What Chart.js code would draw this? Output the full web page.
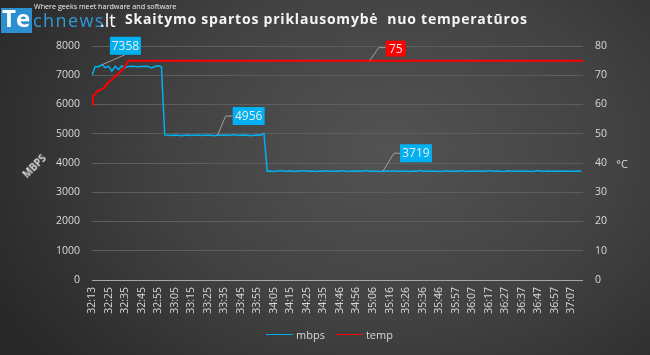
<!DOCTYPE html>
<html><head><meta charset="utf-8">
<script src="https://cdn.jsdelivr.net/npm/chart.js@4.4.0/dist/chart.umd.min.js"></script>
<style>
html,body{margin:0;padding:0;}
body{width:650px;height:355px;overflow:hidden;position:relative;
 background:radial-gradient(ellipse 70% 95% at 60% 42%, #535353 0%, #424242 50%, #272727 100%);
 font-family:'Open Sans',sans-serif;}
#wrap{position:absolute;left:0;top:0;width:650px;height:355px;}
.abs{position:absolute;white-space:nowrap;}
#logoBox{left:1px;top:8px;width:31px;height:25px;background:#2b8fd0;}
#logoTe{left:2px;top:1px;font:bold 24px 'Open Sans',sans-serif;color:#fff;}
#logoCh{left:33px;top:8px;font:18px 'Open Sans',sans-serif;color:#2f9ad8;letter-spacing:1.4px;}
#logoLt{left:100px;top:8px;font:18px 'Open Sans',sans-serif;color:#fff;}
#logoTag{left:34px;top:1px;font:7.2px 'Open Sans',sans-serif;color:#f0f0f0;}
#title{left:125px;top:9px;font:bold 14px 'Open Sans',sans-serif;color:#f4f4f4;}
#yTitle{left:34px;top:166px;font:bold 10px 'Open Sans',sans-serif;color:#d9d9d9;transform:translate(-50%,-50%) rotate(-45deg);}
#y1Title{left:622px;top:163px;font:11px 'Open Sans',sans-serif;color:#d9d9d9;transform:translate(-50%,-50%);}
#legend{left:266px;top:327px;font:11px 'Open Sans',sans-serif;color:#d9d9d9;display:flex;align-items:center;}
.lg{display:inline-block;width:27px;height:0;margin-right:3px;}
</style></head>
<body>
<div id="wrap"><canvas id="c" width="650" height="355"></canvas></div>
<div class="abs" id="logoBox"></div>
<div class="abs" id="logoTe">Te</div>
<div class="abs" id="logoCh">chnews</div>
<div class="abs" id="logoLt">.lt</div>
<div class="abs" id="logoTag">Where geeks meet hardware and software</div>
<div class="abs" id="title">Skaitymo spartos priklausomybė&nbsp; nuo temperatūros</div>
<div class="abs" id="yTitle">MBPS</div>
<div class="abs" id="y1Title">°C</div>
<div class="abs" id="legend"><span class="lg" style="border-top:1.5px solid #00B0F0"></span><span style="margin-right:11px">mbps</span><span class="lg" style="border-top:1.5px solid #FF0000"></span><span>temp</span></div>
<script>
// ---- data ----
const timeLabels = ['32:13','32:25','32:35','32:45','32:55','33:05','33:15','33:25','33:35','33:45',
 '33:55','34:05','34:15','34:25','34:35','34:46','34:56','35:06','35:16','35:26',
 '35:36','35:46','35:57','36:07','36:17','36:27','36:37','36:47','36:57','37:07'];
const SAMPLES_PER_LABEL = 10;
const LAST_SAMPLE = 297;
const MBPS_STEP = 2; // one value every 2 samples
const mbps = [
 7000,7300,7290,7358,7260,7310,7140,7300,7200,7320,
 7260,7300,7310,7300,7290,7300,7310,7300,7250,7300,
 7320,7290,4960,4950,4940,4960,4950,4930,4950,4960,
 4940,4950,4960,4940,4950,4960,4950,4930,4956,4940,
 4960,4950,4950,4970,4940,4950,4960,4950,4930,4950,
 4960,4950,5010,3720,3730,3710,3725,3740,3715,3720,
 3735,3710,3725,3720,3740,3715,3730,3720,3710,3725,
 3720,3735,3715,3720,3730,3720,3740,3710,3720,3725,
 3715,3730,3720,3740,3715,3725,3720,3710,3719,3725,
 3720,3735,3715,3720,3730,3720,3710,3725,3720,3740,
 3715,3720,3730,3720,3725,3710,3720,3735,3715,3720,
 3725,3720,3740,3710,3720,3725,3720,3715,3730,3720,
 3740,3715,3720,3725,3710,3720,3735,3720,3715,3725,
 3720,3730,3720,3710,3725,3740,3715,3720,3725,3720,
 3715,3730,3720,3725,3720,3715,3720,3725,3720
];
const tempX = [0, 0.5, 2, 3, 5, 7, 9, 11, 14, 16, 18, 20, 22, 297];
const tempY = [60, 63, 63.5, 64.5, 65, 65.5, 67, 68, 69.5, 70.7, 71.6, 73, 75, 75];
const calloutMbps = [3, 38, 88];  // indexes in mbps array
const calloutTempSample = 168;    // sample position of temp label
const calloutTempValue = 75;

// ---- build ----
const mbpsPts = mbps.map((v,i)=>({x:i*MBPS_STEP, y:v}));
const tempPts = tempX.map((x,i)=>({x:x, y:tempY[i]}));

const callouts = [
 {axis:'y',  x: calloutMbps[0]*MBPS_STEP, v: mbps[calloutMbps[0]], bg:'#00B0F0', box:[8,-28,31,18], path:[[23,-10]]},
 {axis:'y',  x: calloutMbps[1]*MBPS_STEP, v: mbps[calloutMbps[1]], bg:'#00B0F0', box:[15,-28,32,18], path:[[8,-19],[15,-19]]},
 {axis:'y',  x: calloutMbps[2]*MBPS_STEP, v: mbps[calloutMbps[2]], bg:'#00B0F0', box:[17,-27,32,18], path:[[11,-18],[17,-18]]},
 {axis:'y1', x: calloutTempSample, v: calloutTempValue, bg:'#FF0000', box:[16,-20,20,16], path:[[9,-13],[16,-13]]}
];

const calloutPlugin = {
 id:'callouts',
 afterDatasetsDraw(chart){
  const ctx = chart.ctx, sx = chart.scales.x;
  callouts.forEach(c=>{
   const px = sx.getPixelForValue(c.x), py = chart.scales[c.axis].getPixelForValue(c.v);
   ctx.save();
   ctx.strokeStyle = '#a0a0a0'; ctx.lineWidth = 1;
   ctx.beginPath(); ctx.moveTo(px,py);
   c.path.forEach(p=>ctx.lineTo(px+p[0], py+p[1]));
   ctx.stroke();
   const [bx,by,bw,bh] = c.box;
   ctx.fillStyle = c.bg;
   ctx.fillRect(px+bx, py+by, bw, bh);
   ctx.fillStyle = '#ececec';
   ctx.font = '12px "Open Sans", sans-serif';
   ctx.textAlign = 'center'; ctx.textBaseline = 'middle';
   ctx.fillText(String(c.v), px+bx+bw/2, py+by+bh/2+0.5);
   ctx.restore();
  });
 }
};

const tickFont = {family:"'Open Sans', sans-serif", size:10.5};
new Chart(document.getElementById('c'), {
 type:'line',
 data:{datasets:[
  {label:'mbps', data:mbpsPts, yAxisID:'y', borderColor:'#00B0F0', borderWidth:1.5, pointRadius:0, tension:0, order:2},
  {label:'temp', data:tempPts, yAxisID:'y1', borderColor:'#FF0000', borderWidth:2, pointRadius:0, tension:0, order:1}
 ]},
 options:{
  responsive:false, animation:false,
  layout:{padding:{top:46,left:0,right:0,bottom:0}},
  plugins:{legend:{display:false}, tooltip:{enabled:false}},
  scales:{
   x:{type:'linear', min:0, max:LAST_SAMPLE,
      afterBuildTicks(a){ a.ticks = timeLabels.map((_,i)=>({value:i*SAMPLES_PER_LABEL})); },
      afterFit(a){ a.height = 75; },
      grid:{display:false, drawTicks:false}, border:{display:false},
      ticks:{autoSkip:false, minRotation:90, maxRotation:90, padding:7, color:'#d9d9d9', font:tickFont,
        callback:(v)=>timeLabels[Math.round(v/SAMPLES_PER_LABEL)]}},
   y:{position:'left', min:0, max:8000,
      afterFit(a){ a.width = 92; },
      grid:{color:(c)=>c.tick && c.tick.value===0 ? '#a6a6a6' : '#5e5e5e', lineWidth:1, drawTicks:false},
      border:{display:false},
      ticks:{stepSize:1000, padding:12, color:'#d9d9d9', font:tickFont, callback:(v)=>String(v)}},
   y1:{position:'right', min:0, max:80,
      afterFit(a){ a.width = 67; },
      grid:{display:false, drawTicks:false}, border:{display:false},
      ticks:{stepSize:10, padding:12, color:'#d9d9d9', font:tickFont, callback:(v)=>String(v)}}
  }
 },
 plugins:[calloutPlugin]
});

// fit title width to reference span
(function(){
 const t = document.getElementById('title');
 const target = 402;
 const w = t.getBoundingClientRect().width;
 const n = t.textContent.length;
 t.style.letterSpacing = ((target - w)/(n-1)) + 'px';
})();
</script>
</body></html>
